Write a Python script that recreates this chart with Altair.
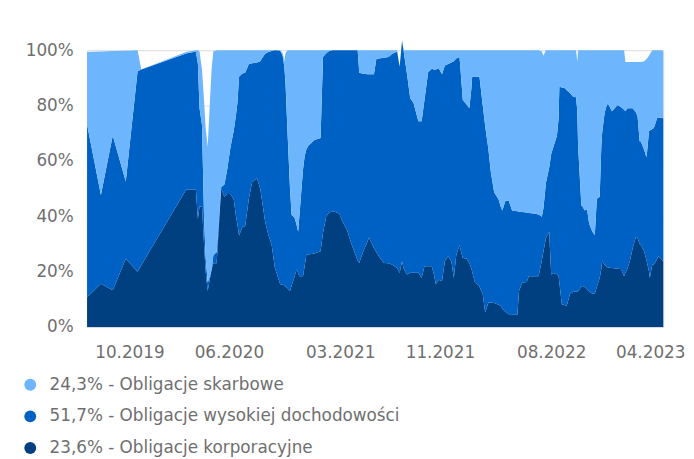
import altair as alt
import pandas as pd

# ---- data ----
base_date = "2019-06-19"
day_offsets = [0, 34, 63, 95, 124, 133, 243, 267, 272, 276, 282, 287, 291, 296, 301, 306, 310, 318,
               329, 337, 344, 352, 360, 365, 369, 373, 381, 388, 397, 405, 417, 425, 429, 437, 445,
               453, 461, 474, 480, 484, 487, 492, 498, 502, 509, 514, 518, 521, 530, 534, 538, 543,
               558, 573, 579, 587, 594, 604, 619, 627, 638, 647, 660, 664, 668, 677, 688, 692, 704,
               710, 716, 728, 740, 749, 761, 767, 773, 777, 785, 793, 801, 813, 821, 828, 837, 846,
               851, 856, 863, 871, 878, 886, 894, 900, 906, 914, 918, 922, 931, 938, 943, 945, 951,
               963, 971, 977, 985, 991, 999, 1010, 1015, 1019, 1027, 1035, 1043, 1056, 1060, 1068,
               1079, 1084, 1096, 1108, 1116, 1120, 1126, 1134, 1139, 1145, 1153, 1157, 1159, 1165,
               1173, 1177, 1185, 1193, 1200, 1203, 1205, 1213, 1216, 1221, 1227, 1232, 1240, 1246,
               1251, 1258, 1262, 1264, 1270, 1274, 1278, 1288, 1302, 1310, 1318, 1321, 1326, 1332,
               1339, 1347, 1351, 1356, 1359, 1367, 1373, 1379, 1381, 1387, 1391, 1399, 1402, 1411,
               1414]

korporacyjne = [10.7, 15.6, 13.2, 24.6, 19.9, 22.3, 49.6, 49.6, 39, 43.5, 43.5, 30, 20, 13, 17, 21, 23, 23,
                50, 47, 48, 48, 46, 40.4, 37, 33, 36, 36.5, 46.3, 52.3, 53.7, 49.9, 46, 38, 33.2,
                29.6, 21.3, 15.4, 15.2, 15, 14.5, 14, 13, 15, 18, 20.7, 19.5, 18.3, 18.3, 22, 26, 26.2,
                26.5, 27.3, 34, 40, 41.3, 41.8, 41, 38, 35, 30.8, 25.5, 24, 23.1, 27, 30.8, 32.3, 28.5,
                27, 25.5, 23.1, 23, 22.5, 21.3, 19.5, 23.7, 21, 18.9, 19.6, 19.6, 19.6, 17.7, 21.9, 21.9, 21.9,
                19, 15.4, 17, 16.5, 23.7, 25.5, 23.7, 17.7, 26, 29.5, 27, 24.9, 24.7, 23, 21.3, 20, 16.5,
                14.5, 11.8, 5.2, 8.8, 8.8, 8.6, 8, 7.6, 6.5, 5.5, 4.6, 4.6, 4.5, 13, 16,
                16.2, 18.3, 18.3, 18.3, 24, 27.3, 32, 34.4, 18.9, 19.5, 19, 18.5, 16, 8.2,
                7.8, 7.6, 11.8, 12.7, 12.7, 12.8, 13, 14.5, 14.8, 14.5, 13.5, 12.8, 12, 12,
                14.5, 17.7, 21, 23.7, 22.5, 21.9, 21.5, 21.3, 21, 20.9, 18.3, 19.5, 21, 23.7,
                28.5, 32.6, 32, 30, 29.6, 27.3, 24, 20, 17.7, 22.5, 22.5, 24.5, 25.5, 24.3,
                23.6]

wysokiej = [62.4, 32.1, 56.0, 27.9, 72.6, 70.7, 49.2, 49.9, 56, 35.5, 29.5, 10, 5, 3, 1, 0, 3, 4,
            0.5, 4.5, 9, 17, 25, 35.6, 44, 57.4, 55.6, 55.3, 48.7, 43, 41.8, 46.1, 51, 60.7, 66.1,
            70.1, 78.7, 84.4, 82.8, 79, 73.5, 56, 37, 25.4, 21.5, 16.3, 14.9, 21.7, 38.7, 39.8, 38, 39.3,
            41, 41, 63.5, 58.9, 58.4, 58.2, 59, 62, 65, 69.2, 74.5, 76, 68.7, 64.5, 60.5, 59, 62.8,
            69.9, 71.5, 74.2, 74.5, 76.2, 78.2, 74.5, 79.8, 78.5, 72.6, 63, 61.4, 54.7, 56.6, 60.1, 70.1, 71.4,
            74, 77.6, 76.5, 74.8, 70.8, 69.5, 71.8, 78.3, 71, 68, 63, 57.1, 55.8, 56, 64.7, 70.4, 74,
            75.9, 68.2, 67.3, 55.2, 47, 40.1, 38, 35.9, 35.6, 40.2, 40.9, 37.5, 37.3, 28.6, 25.5,
            25.1, 22.9, 22.7, 22.3, 15.8, 15.7, 20, 23.1, 43.6, 45.9, 50, 56.5, 70.8, 78.3,
            78.4, 77.9, 72.7, 70.5, 70.3, 65.2, 52.4, 29.4, 28.7, 27.6, 29, 24.6, 22.4, 21.2,
            31.8, 29.3, 44.4, 46.3, 54.8, 57.6, 59.3, 56.6, 59.2, 58.6, 60.2, 58.4, 58, 55.3,
            50.5, 44.9, 44, 37.1, 37.4, 36.7, 37.2, 50.7, 53.3, 49, 49.4, 51, 50.1, 51.3,
            51.7]

skarbowe = [26.2, 51.8, 30.5, 47.3, 7.5, 0, 0.5, 0.5, 5, 20.5, 20, 42, 47, 49, 62, 73, 73.5, 73,
            49.5, 48.5, 43, 35, 29, 24, 19, 9.6, 8.4, 8.2, 5, 4.7, 4.5, 4, 3, 1.3, 0.7,
            0.3, 0, 0.2, 1, 2, 11, 30, 50, 59.6, 60.5, 63, 65.6, 60, 43, 38.2, 36, 34.5,
            32.5, 31.7, 2.5, 1.1, 0.3, 0, 0, 0, 0, 0, 0, 0, 8.2, 8.5, 8.7, 8.7, 8.7,
            3.1, 3, 2.7, 2.5, 1.3, 0.5, 0, 0, 0.5, 8.5, 17.4, 19, 25.7, 25.7, 18, 8, 6.7,
            7, 7, 6.5, 8.7, 5.5, 5, 4.5, 4, 3, 2.5, 10, 18, 19.5, 21, 14, 9.6, 9.5,
            9.6, 20, 27.5, 36, 44.2, 51.3, 54, 56.5, 57.9, 54.3, 54.5, 57.9, 58.2, 58.4, 58.5,
            58.7, 58.8, 59, 59.4, 59.7, 55, 48, 42.5, 37.5, 34.6, 31, 25, 13.2, 13.5,
            13.8, 14.5, 15.5, 16.8, 17, 17.7, 34.6, 56.1, 56.5, 57.9, 57.5, 62.6, 65.6, 66.8,
            53.7, 53, 34.6, 30, 22.7, 20.5, 19.2, 22.1, 19.8, 20.5, 21.5, 17.8, 16.7, 16.7,
            16.7, 18.2, 19.7, 28.6, 28.7, 32, 35.6, 27.3, 27.5, 28.5, 28.1, 24.5, 24.4, 24.4,
            24.3]

series_names = ["24,3% - Obligacje skarbowe",
                "51,7% - Obligacje wysokiej dochodowości",
                "23,6% - Obligacje korporacyjne"]
series_colors = ["#6db5fd", "#0061c4", "#003f80"]
tick_labels = ["10.2019", "06.2020", "03.2021", "11.2021", "08.2022", "04.2023"]
y_ticks = [0, 20, 40, 60, 80, 100]
domain_days = 1414

FONT = "DejaVu Sans"
TEXT_COLOR = "#6f6f6f"

# ---- build long table ----
dates = pd.Timestamp(base_date) + pd.to_timedelta(day_offsets, unit="D")
rows = []
for name, vals, order in [(series_names[2], korporacyjne, 0),
                          (series_names[1], wysokiej, 1),
                          (series_names[0], skarbowe, 2)]:
    for d, v in zip(dates, vals):
        rows.append({"date": d.strftime("%Y-%m-%dT00:00:00"), "series": name,
                     "value": v, "order": order})
df = pd.DataFrame(rows)

start = pd.Timestamp(base_date)
end = start + pd.Timedelta(days=domain_days)
x_domain = [alt.DateTime(year=start.year, month=start.month, date=start.day),
            alt.DateTime(year=end.year, month=end.month, date=end.day)]
tick_dates = [alt.DateTime(year=int(t[3:]), month=int(t[:2]), date=1) for t in tick_labels]

chart = alt.Chart(df).mark_area(interpolate="linear", opacity=1).encode(
    x=alt.X("date:T",
            scale=alt.Scale(domain=x_domain),
            axis=alt.Axis(values=tick_dates, format="%m.%Y", title=None, grid=False,
                          ticks=False, labelFontSize=17, labelFont=FONT,
                          labelColor=TEXT_COLOR, labelPadding=18, labelOverlap=False,
                          domainColor="#d3dbe4", domainWidth=1)),
    y=alt.Y("value:Q", stack="zero",
            scale=alt.Scale(domain=[0, 100], nice=False),
            axis=alt.Axis(values=y_ticks, labelExpr="datum.value + '%'", title=None,
                          domain=False, ticks=False, gridColor="#e4e4e4", gridWidth=1,
                          labelFontSize=17, labelFont=FONT, labelColor=TEXT_COLOR,
                          labelPadding=14)),
    color=alt.Color("series:N", title=None,
                    scale=alt.Scale(domain=series_names, range=series_colors),
                    legend=alt.Legend(orient="none", legendX=-66, legendY=330,
                                      direction="vertical", symbolType="circle",
                                      symbolSize=144, symbolStrokeWidth=0,
                                      symbolOpacity=1, labelFontSize=17,
                                      labelFont=FONT, labelColor=TEXT_COLOR,
                                      labelOffset=11, rowPadding=14, padding=0,
                                      labelLimit=600)),
    order=alt.Order("order:Q"),
).properties(
    width=583, height=280,
    autosize=alt.AutoSizeParams(type="none"),
    padding={"left": 80, "top": 40, "right": 23, "bottom": 131},
).configure_view(strokeWidth=0).configure(background="white")

chart.save("out.html", embed_options={"renderer": "svg", "actions": False})
